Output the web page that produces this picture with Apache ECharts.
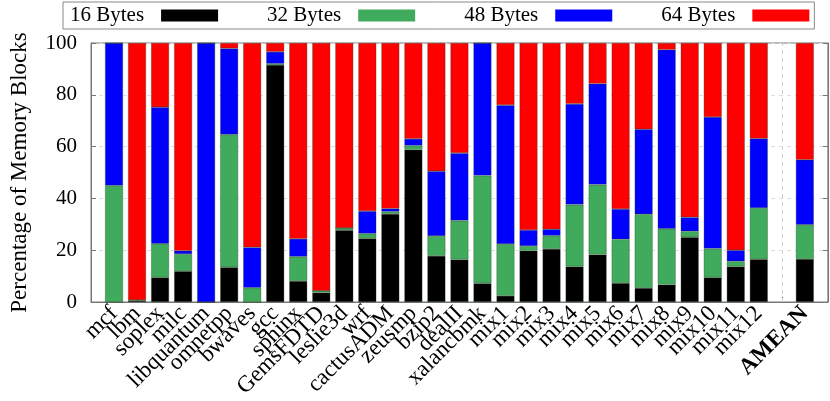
<!DOCTYPE html>
<html>
<head>
<meta charset="utf-8">
<script src="https://cdn.jsdelivr.net/npm/echarts@6/dist/echarts.min.js"></script>
<style>
html,body{margin:0;padding:0;background:#fff;}
#chart{width:830px;height:401px;}
</style>
</head>
<body>
<div id="chart"></div>
<script>
var categories = ['mcf','lbm','soplex','milc','libquantum','omnetpp','bwaves','gcc','sphinx','GemsFDTD','leslie3d','wrf','cactusADM','zeusmp','bzip2','dealII','xalancbmk','mix1','mix2','mix3','mix4','mix5','mix6','mix7','mix8','mix9','mix10','mix11','mix12',' ','AMEAN'];
var seriesNames = ['16 Bytes','32 Bytes','48 Bytes','64 Bytes'];
var bytes16 = [0, 0.5, 9.5, 11.9, 0, 13.4, 0, 91.5, 8.1, 3.6, 27.7, 24.5, 34.0, 58.8, 17.8, 16.4, 7.2, 2.4, 19.8, 20.5, 13.7, 18.3, 7.3, 5.4, 6.7, 25.0, 9.5, 13.7, 16.5, null, 16.6];
var bytes32 = [45.0, 0.3, 13.0, 6.6, 0, 51.3, 5.5, 0.5, 9.4, 0.7, 0.9, 1.9, 0.9, 1.6, 7.7, 15.0, 41.6, 20.0, 1.8, 5.1, 23.9, 27.0, 16.9, 28.5, 21.6, 2.3, 11.1, 2.0, 19.8, null, 13.2];
var bytes48 = [55.0, 0, 52.7, 1.3, 100, 33.2, 15.6, 4.6, 6.9, 0, 0, 8.7, 1.2, 2.6, 25.0, 26.1, 51.2, 53.6, 6.2, 2.5, 38.9, 39.0, 11.7, 32.8, 69.1, 5.4, 50.8, 4.3, 26.8, null, 25.1];
var bytes64 = [0, 99.2, 24.8, 80.2, 0, 2.1, 78.9, 3.4, 75.6, 95.7, 71.4, 64.9, 63.9, 37.0, 49.5, 42.5, 0, 24.0, 72.2, 71.9, 23.5, 15.7, 64.1, 33.3, 2.6, 67.3, 28.6, 80.0, 36.9, null, 45.1];
var yTicks = [0, 20, 40, 60, 80, 100];
var colors = ['#000000', '#41ab5d', '#0000ff', '#ff0000'];

var FONT = "'Liberation Serif', 'DejaVu Serif', serif";
// pad with empty slots at both ends so the bars sit at the gnuplot-like positions
var axisCats = [''].concat(categories).concat(['  ']);
function pad(arr){ return [null].concat(arr).concat([null]); }
var allData = [bytes16, bytes32, bytes48, bytes64];

var series = seriesNames.map(function(name, i){
  var s = {
    name: name,
    type: 'bar',
    stack: 'total',
    barWidth: 18,
    data: pad(allData[i]),
    itemStyle: {color: colors[i], borderColor: 'rgba(30,60,30,0.55)', borderWidth: 0.6},
    emphasis: {disabled: true}
  };
  if (i === 0) {
    s.markLine = {
      silent: true,
      symbol: 'none',
      label: {show: false},
      lineStyle: {color: '#cccccc', type: [4, 4], width: 1},
      data: [{xAxis: ' '}]
    };
  }
  return s;
});

var chart = echarts.init(document.getElementById('chart'), null, {renderer: 'canvas'});
chart.setOption({
  animation: false,
  backgroundColor: '#ffffff',
  color: colors,
  legend: {
    data: seriesNames,
    left: 63,
    top: 2,
    align: 'right',
    orient: 'horizontal',
    itemWidth: 57,
    itemHeight: 12,
    itemGap: 49,
    padding: [3, 5, 3, 7],
    borderColor: '#888888',
    borderWidth: 1,
    icon: 'rect',
    textStyle: {fontFamily: FONT, fontSize: 21, color: '#000', padding: [0, 12, 0, 0]},
    itemStyle: {borderWidth: 0}
  },
  grid: {
    left: 76, right: 2, top: 43, bottom: 99,
    show: true, borderColor: '#777777', borderWidth: 1, backgroundColor: 'transparent'
  },
  xAxis: {
    type: 'category',
    data: axisCats,
    boundaryGap: false,
    axisLine: {show: true, lineStyle: {color: '#777777'}},
    axisTick: {show: true, inside: true, length: 5, interval: 0, lineStyle: {color: '#777777'}},
    splitLine: {show: false},
    axisLabel: {
      interval: 0,
      rotate: 45,
      margin: 8,
      fontFamily: FONT,
      fontSize: 23,
      color: '#000',
      formatter: function(v){
        if (v === 'AMEAN') return '{b|AMEAN}';
        return v.trim();
      },
      rich: {b: {fontFamily: FONT, fontSize: 23, fontWeight: 'bold', color: '#000'}}
    }
  },
  yAxis: [{
    type: 'value',
    min: 0, max: 100, interval: 20,
    name: 'Percentage of Memory Blocks',
    nameLocation: 'middle',
    nameGap: 60,
    nameTextStyle: {fontFamily: FONT, fontSize: 23, color: '#000'},
    axisLine: {show: true, lineStyle: {color: '#777777'}},
    axisTick: {show: true, inside: true, length: 5, lineStyle: {color: '#777777'}},
    splitLine: {show: true, lineStyle: {color: '#dddddd', type: [4, 4]}},
    axisLabel: {
      fontFamily: FONT, fontSize: 21, color: '#000', margin: 14,
      formatter: function(v){ return yTicks.indexOf(v) >= 0 ? String(v) : ''; }
    }
  }, {
    type: 'value',
    position: 'right',
    min: 0, max: 100, interval: 20,
    axisLine: {show: true, lineStyle: {color: '#777777'}},
    axisTick: {show: true, inside: true, length: 5, lineStyle: {color: '#777777'}},
    splitLine: {show: false},
    axisLabel: {show: false}
  }],
  series: series
});
</script>
</body>
</html>
